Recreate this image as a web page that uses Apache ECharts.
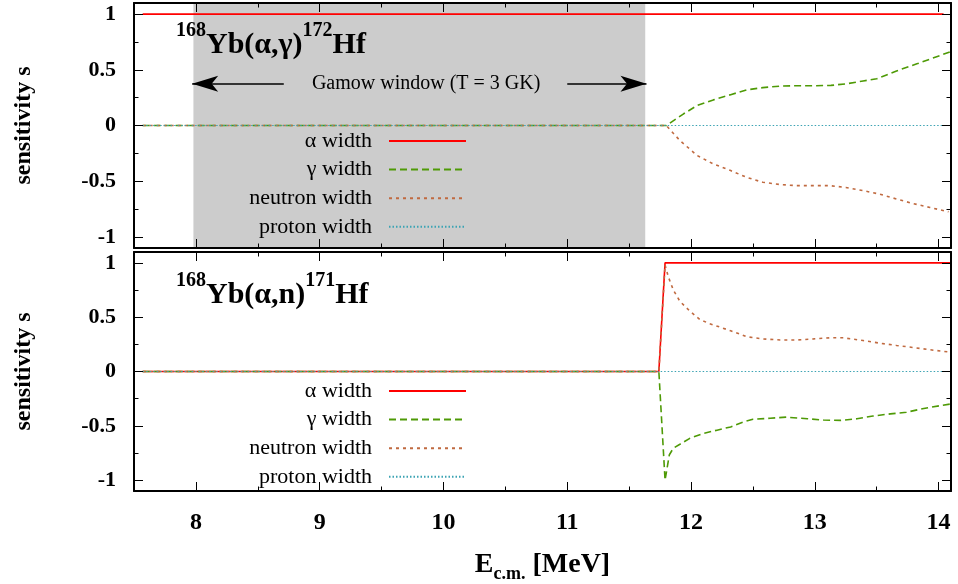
<!DOCTYPE html>
<html>
<head>
<meta charset="utf-8">
<script src="https://cdn.jsdelivr.net/npm/echarts@6/dist/echarts.min.js"></script>
<style>
  html, body { margin: 0; padding: 0; background: #fff; }
  #chart { width: 958px; height: 584px; }
</style>
</head>
<body>
<div id="chart"></div>
<script>
// ---- data ----
const seriesNames = ['α width', 'γ width', 'neutron width', 'proton width']
const xMajorTicks = [8, 9, 10, 11, 12, 13, 14]
const xMinorTicks = [8.5, 9.5, 10.5, 11.5, 12.5, 13.5]
const yMajorTicks = [-1, -0.5, 0, 0.5, 1]
const yMinorTicks = [-0.75, -0.25, 0.25, 0.75]
const gamowWindow = [7.98, 11.63]

// upper panel: 168Yb(a,g)172Hf
const topAlpha = [[7.57, 1], [14.04, 1]]
const topGamma = [[7.57, 0], [11.80, 0], [11.94, 0.105], [12.05, 0.18], [12.18, 0.23], [12.32, 0.277],
  [12.45, 0.32], [12.58, 0.34], [12.72, 0.354], [12.85, 0.357], [13.0, 0.357], [13.13, 0.36],
  [13.26, 0.375], [13.39, 0.40], [13.5, 0.42], [13.66, 0.49], [13.83, 0.556], [13.99, 0.62], [14.09, 0.66]]
const topNeutron = [[7.57, 0], [11.80, 0], [11.91, -0.135], [12.05, -0.27], [12.18, -0.345], [12.32, -0.405],
  [12.45, -0.466], [12.58, -0.51], [12.72, -0.53], [12.85, -0.54], [13.12, -0.54], [13.25, -0.556],
  [13.39, -0.585], [13.52, -0.615], [13.66, -0.66], [13.79, -0.70], [13.93, -0.736], [14.08, -0.775]]
const topProton = [[7.57, 0], [14.06, 0]]

// lower panel: 168Yb(a,n)171Hf
const botAlpha = [[7.57, 0], [11.74, 0], [11.79, 1], [14.1, 1]]
const botGamma = [[7.57, 0], [11.74, 0], [11.79, -1.0], [11.825, -0.766], [11.857, -0.706], [11.91, -0.67],
  [11.99, -0.615], [12.10, -0.57], [12.21, -0.54], [12.32, -0.51], [12.42, -0.465], [12.50, -0.44],
  [12.64, -0.43], [12.77, -0.42], [12.94, -0.435], [13.07, -0.447], [13.21, -0.45], [13.34, -0.435],
  [13.47, -0.41], [13.61, -0.39], [13.74, -0.375], [13.88, -0.34], [14.01, -0.315], [14.09, -0.30]]
const botNeutron = [[7.57, 0], [11.74, 0], [11.79, 0.98], [11.817, 0.87], [11.857, 0.75], [11.91, 0.646],
  [11.99, 0.556], [12.07, 0.48], [12.15, 0.44], [12.23, 0.41], [12.32, 0.375], [12.45, 0.32],
  [12.58, 0.30], [12.72, 0.29], [12.85, 0.29], [12.99, 0.30], [13.12, 0.31], [13.23, 0.31],
  [13.39, 0.285], [13.53, 0.26], [13.66, 0.24], [13.80, 0.22], [13.93, 0.20], [14.08, 0.18]]
const botProton = [[7.57, 0], [14.08, 0]]

const SERIF = "'Liberation Serif', 'DejaVu Serif', serif"
const styles = [
  { color: '#ff0000', width: 1.6, type: 'solid' },
  { color: '#4e9a06', width: 1.6, type: [7, 4] },
  { color: '#c06a40', width: 1.6, type: [3, 4] },
  { color: '#3ba3b3', width: 1.2, type: [1.5, 2] }
]

const XMIN = 7.5, XMAX = 14.1, YMIN = -1.1, YMAX = 1.1
const frame = { show: true, onZero: false, lineStyle: { color: '#000', width: 2 } }
const noLine = { show: false, onZero: false }

function xAxes(g) {
  const base = { type: 'value', gridIndex: g, min: XMIN, max: XMAX, splitLine: { show: false }, z: 10 }
  const tick = (vals, len) => ({ show: true, inside: true, length: len, customValues: vals, lineStyle: { color: '#000', width: 1 } })
  const bottomMain = Object.assign({}, base, {
    position: 'bottom', axisLine: frame, axisTick: tick(xMajorTicks, 9),
    axisLabel: g === 1
      ? { show: true, customValues: xMajorTicks, margin: 20, color: '#000', fontFamily: SERIF, fontWeight: 'bold', fontSize: 24 }
      : { show: false }
  })
  if (g === 1) {
    bottomMain.name = '{e|E}{s|c.m.}{e| [MeV]}'
    bottomMain.nameLocation = 'middle'
    bottomMain.nameGap = 60
    bottomMain.nameTextStyle = {
      color: '#000',
      rich: {
        e: { fontFamily: SERIF, fontWeight: 'bold', fontSize: 28, color: '#000', lineHeight: 32, verticalAlign: 'top' },
        s: { fontFamily: SERIF, fontWeight: 'bold', fontSize: 18, color: '#000', lineHeight: 18, verticalAlign: 'bottom' }
      }
    }
  }
  return [
    bottomMain,
    Object.assign({}, base, { position: 'bottom', axisLine: noLine, axisTick: tick(xMinorTicks, 4.5), axisLabel: { show: false } }),
    Object.assign({}, base, { position: 'top', axisLine: frame, axisTick: tick(xMajorTicks, 9), axisLabel: { show: false } }),
    Object.assign({}, base, { position: 'top', axisLine: noLine, axisTick: tick(xMinorTicks, 4.5), axisLabel: { show: false } })
  ]
}

function yAxes(g) {
  const base = { type: 'value', gridIndex: g, min: YMIN, max: YMAX, splitLine: { show: false }, z: 10 }
  const tick = (vals, len) => ({ show: true, inside: true, length: len, customValues: vals, lineStyle: { color: '#000', width: 1 } })
  return [
    Object.assign({}, base, {
      position: 'left', axisLine: frame, axisTick: tick(yMajorTicks, 9),
      axisLabel: { show: true, customValues: yMajorTicks, margin: 18, color: '#000', fontFamily: SERIF, fontWeight: 'bold', fontSize: 22 },
      name: 'sensitivity s', nameLocation: 'middle', nameGap: 98,
      nameTextStyle: { color: '#000', fontFamily: SERIF, fontWeight: 'bold', fontSize: 24 }
    }),
    Object.assign({}, base, { position: 'left', axisLine: noLine, axisTick: tick(yMinorTicks, 4.5), axisLabel: { show: false } }),
    Object.assign({}, base, { position: 'right', axisLine: frame, axisTick: tick(yMajorTicks, 9), axisLabel: { show: false } }),
    Object.assign({}, base, { position: 'right', axisLine: noLine, axisTick: tick(yMinorTicks, 4.5), axisLabel: { show: false } })
  ]
}

function lineSeries(g, idx, data) {
  const s = styles[idx]
  return {
    type: 'line', name: seriesNames[idx], xAxisIndex: g * 4, yAxisIndex: g * 4,
    data, showSymbol: false, symbol: 'none', z: 3 + idx,
    lineStyle: { color: s.color, width: s.width, type: s.type },
    itemStyle: { color: s.color }
  }
}

const legendBase = {
  orient: 'vertical', align: 'right', right: 491, padding: 0,
  itemWidth: 77, itemHeight: 12, itemGap: 6.6,
  selectedMode: false, data: seriesNames,
  itemStyle: { color: 'rgba(0,0,0,0)', borderWidth: 0, opacity: 0 },
  textStyle: { fontFamily: SERIF, fontSize: 22, color: '#000', lineHeight: 22, padding: [0, 12, 0, 0] }
}

const titleRich = {
  sup: { fontFamily: SERIF, fontWeight: 'bold', fontSize: 20, color: '#000', lineHeight: 20, verticalAlign: 'top' },
  main: { fontFamily: SERIF, fontWeight: 'bold', fontSize: 30, color: '#000', lineHeight: 39, verticalAlign: 'bottom' }
}

const option = {
  animation: false,
  backgroundColor: '#fff',
  title: [
    { text: '{sup|168}{main|Yb(α,γ)}{sup|172}{main|Hf}', left: 176, top: 21, padding: 0, textStyle: { rich: titleRich } },
    { text: '{sup|168}{main|Yb(α,n)}{sup|171}{main|Hf}', left: 176, top: 271, padding: 0, textStyle: { rich: titleRich } }
  ],
  legend: [
    Object.assign({}, legendBase, { top: 130 }),
    Object.assign({}, legendBase, { top: 380 })
  ],
  grid: [
    { left: 134, top: 3, width: 817, height: 245 },
    { left: 134, top: 252, width: 817, height: 245 }
  ],
  xAxis: [...xAxes(0), ...xAxes(1)],
  yAxis: [...yAxes(0), ...yAxes(1)],
  series: [
    {
      type: 'line', name: 'gamow', xAxisIndex: 0, yAxisIndex: 0, data: [], z: 1, silent: true,
      markArea: {
        silent: true, itemStyle: { color: '#cccccc' },
        data: [[{ xAxis: gamowWindow[0] }, { xAxis: gamowWindow[1] }]]
      },
      markLine: {
        silent: true, symbol: ['none', 'arrow'], symbolSize: [12, 26],
        lineStyle: { color: '#000', width: 1.5, type: 'solid' }, label: { show: false },
        data: [
          [{ coord: [8.71, 0.375] }, { coord: [gamowWindow[0] - 0.01, 0.375] }],
          [{ coord: [11.0, 0.375] }, { coord: [gamowWindow[1] + 0.01, 0.375] }]
        ]
      },
      markPoint: {
        silent: true, symbol: 'rect', symbolSize: 1, itemStyle: { color: 'rgba(0,0,0,0)' },
        label: { show: true, position: 'inside', formatter: 'Gamow window (T = 3 GK)', fontFamily: SERIF, fontSize: 20, color: '#000' },
        data: [{ coord: [9.86, 0.375] }]
      }
    },
    lineSeries(0, 0, topAlpha),
    lineSeries(0, 1, topGamma),
    lineSeries(0, 2, topNeutron),
    lineSeries(0, 3, topProton),
    lineSeries(1, 0, botAlpha),
    lineSeries(1, 1, botGamma),
    lineSeries(1, 2, botNeutron),
    lineSeries(1, 3, botProton)
  ]
}

const chart = echarts.init(document.getElementById('chart'), null, { renderer: 'canvas' })
chart.setOption(option)
</script>
</body>
</html>
